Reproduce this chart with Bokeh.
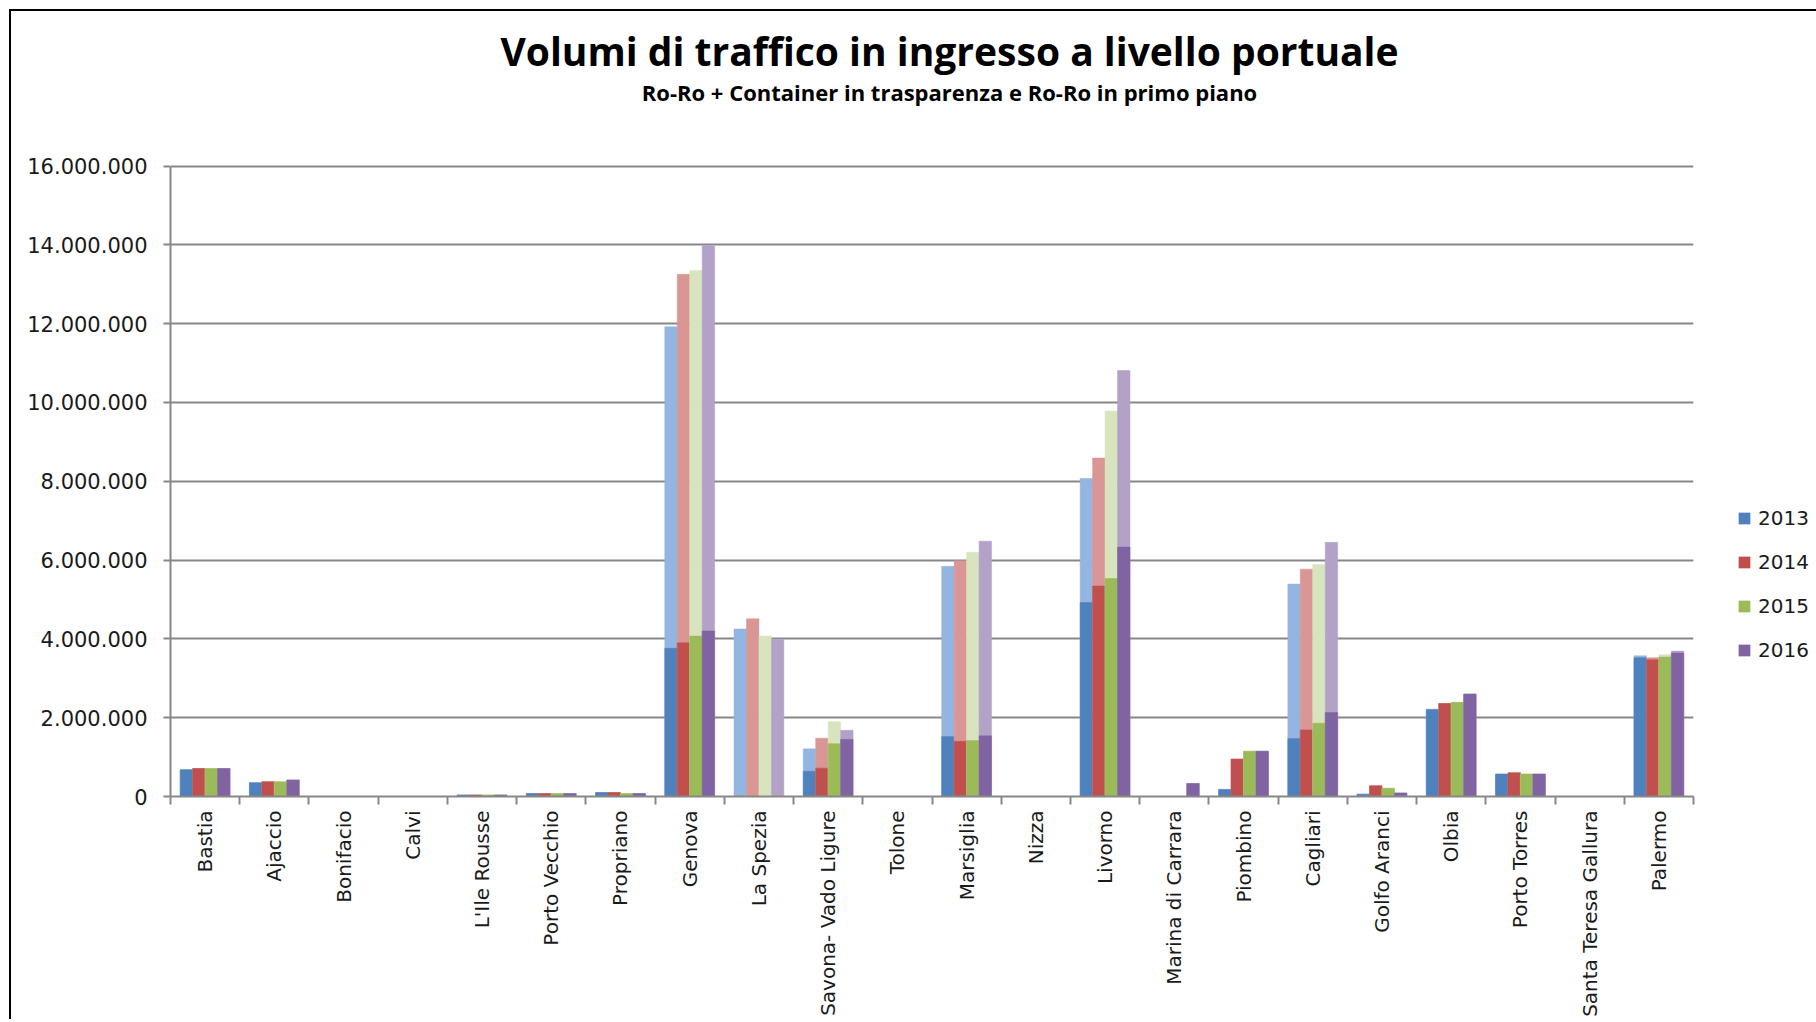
import math
from bokeh.plotting import figure
from bokeh.models import FixedTicker, Range1d, Label, Legend, LegendItem, ColumnDataSource
from bokeh.embed import file_html
from bokeh.resources import INLINE

ports = ["Bastia", "Ajaccio", "Bonifacio", "Calvi", "L'Ile Rousse", "Porto Vecchio",
         "Propriano", "Genova", "La Spezia", "Savona- Vado Ligure", "Tolone", "Marsiglia",
         "Nizza", "Livorno", "Marina di Carrara", "Piombino", "Cagliari", "Golfo Aranci",
         "Olbia", "Porto Torres", "Santa Teresa Gallura", "Palermo"]
years = ["2013", "2014", "2015", "2016"]

# Ro-Ro only (solid, foreground)
roro_2013 = [680000, 350000, 0, 0, 40000, 75000, 100000, 3760000, 0, 640000, 0, 1520000,
             0, 4920000, 0, 180000, 1470000, 60000, 2210000, 570000, 0, 3520000]
roro_2014 = [710000, 375000, 0, 0, 40000, 75000, 100000, 3900000, 0, 720000, 0, 1400000,
             0, 5340000, 0, 950000, 1690000, 270000, 2360000, 600000, 0, 3470000]
roro_2015 = [710000, 375000, 0, 0, 40000, 75000, 76000, 4070000, 0, 1340000, 0, 1420000,
             0, 5530000, 0, 1150000, 1860000, 210000, 2390000, 570000, 0, 3540000]
roro_2016 = [710000, 420000, 0, 0, 40000, 75000, 76000, 4200000, 0, 1450000, 0, 1540000,
             0, 6330000, 330000, 1150000, 2130000, 90000, 2600000, 570000, 0, 3640000]

# Ro-Ro + Container (transparent, background)
total_2013 = [680000, 350000, 0, 0, 40000, 75000, 100000, 11920000, 4250000, 1210000, 0, 5840000,
              0, 8070000, 0, 180000, 5390000, 60000, 2210000, 570000, 0, 3570000]
total_2014 = [710000, 375000, 0, 0, 40000, 75000, 100000, 13250000, 4510000, 1480000, 0, 5980000,
              0, 8590000, 0, 950000, 5770000, 270000, 2360000, 600000, 0, 3520000]
total_2015 = [710000, 375000, 0, 0, 40000, 75000, 76000, 13350000, 4070000, 1900000, 0, 6200000,
              0, 9780000, 0, 1150000, 5890000, 210000, 2390000, 570000, 0, 3600000]
total_2016 = [710000, 420000, 0, 0, 40000, 75000, 76000, 13980000, 3990000, 1680000, 0, 6480000,
              0, 10810000, 330000, 1150000, 6450000, 90000, 2600000, 570000, 0, 3690000]

y_ticks = [0, 2000000, 4000000, 6000000, 8000000, 10000000, 12000000, 14000000, 16000000]
y_labels = ["0", "2.000.000", "4.000.000", "6.000.000", "8.000.000", "10.000.000",
            "12.000.000", "14.000.000", "16.000.000"]

title_text = "Volumi di traffico in ingresso a livello portuale"
subtitle_text = "Ro-Ro + Container in trasparenza e Ro-Ro in primo piano"

roro = [roro_2013, roro_2014, roro_2015, roro_2016]
total = [total_2013, total_2014, total_2015, total_2016]
solid_colors = ["#4F81BD", "#C0504D", "#9BBB59", "#8064A2"]
light_colors = ["#93B5E1", "#D99694", "#D8E4BD", "#B3A2C8"]

n = len(ports)
bar_w = 0.18
offsets = [-0.27, -0.09, 0.09, 0.27]

# layout: the frame also holds the title area above the 16.000.000 gridline
frame_h = 785          # px, whole frame height (title area + plot area)
plot_h = 630.5         # px, height of the 0..16.000.000 band
y_max = 16000000
y_end = y_max * frame_h / plot_h

p = figure(frame_width=1523, frame_height=frame_h,
           x_range=Range1d(0, n), y_range=Range1d(0, y_end),
           output_backend="svg", toolbar_location=None,
           min_border_left=159, min_border_right=120, min_border_top=0, min_border_bottom=200)
p.outline_line_color = None
p.background_fill_color = "white"
p.border_fill_color = "white"
p.title.text = ""
p.styles = {"margin-left": "9px", "margin-top": "9px",
            "border-top": "2px solid black", "border-left": "2px solid black"}

renderers = []
for k in range(4):
    xs = [i + 0.5 + offsets[k] for i in range(n)]
    src_t = ColumnDataSource(dict(x=xs, top=total[k]))
    src_r = ColumnDataSource(dict(x=xs, top=roro[k]))
    p.vbar(x="x", top="top", width=bar_w, source=src_t, fill_color=light_colors[k],
           line_color=light_colors[k], line_width=0.5)
    r = p.vbar(x="x", top="top", width=bar_w, source=src_r, fill_color=solid_colors[k],
               line_color=solid_colors[k], line_width=0.5)
    renderers.append(r)

grid_col = "#878787"
# y axis
p.yaxis.ticker = FixedTicker(ticks=y_ticks)
p.yaxis.bounds = (0, y_max)
p.yaxis.major_label_overrides = {t: l for t, l in zip(y_ticks, y_labels)}
p.yaxis.axis_line_color = grid_col
p.yaxis.axis_line_width = 2
p.yaxis.major_tick_line_color = grid_col
p.yaxis.major_tick_line_width = 2
p.yaxis.major_tick_out = 7
p.yaxis.major_tick_in = 0
p.yaxis.minor_tick_line_color = None
p.yaxis.major_label_text_font = "DejaVu Sans"
p.yaxis.major_label_text_font_size = "21px"
p.yaxis.major_label_text_color = "#1a1a1a"
p.yaxis.major_label_standoff = 16
p.ygrid.grid_line_color = grid_col
p.ygrid.grid_line_width = 2
p.xgrid.visible = False

# x axis
centers = [i + 0.5 for i in range(n)]
p.xaxis.ticker = FixedTicker(ticks=centers, minor_ticks=list(range(n + 1)))
p.xaxis.major_label_overrides = {c: name for c, name in zip(centers, ports)}
p.xaxis.major_label_orientation = math.pi / 2
p.xaxis.axis_line_color = grid_col
p.xaxis.axis_line_width = 2
p.xaxis.major_tick_line_color = None
p.xaxis.major_tick_out = 0
p.xaxis.major_tick_in = 0
p.xaxis.minor_tick_line_color = grid_col
p.xaxis.minor_tick_line_width = 2
p.xaxis.minor_tick_out = 8
p.xaxis.minor_tick_in = 0
p.xaxis.major_label_text_font = "DejaVu Sans"
p.xaxis.major_label_text_font_size = "20px"
p.xaxis.major_label_text_color = "#1a1a1a"
p.xaxis.major_label_standoff = 6

# titles (screen px from the frame's bottom-left corner)
p.add_layout(Label(x=779, y=746, x_units="screen", y_units="screen", text=title_text,
                   text_align="center", text_baseline="alphabetic",
                   text_font="Open Sans", text_font_style="bold", text_font_size="39px",
                   text_color="#000000"))
p.add_layout(Label(x=779, y=705, x_units="screen", y_units="screen", text=subtitle_text,
                   text_align="center", text_baseline="alphabetic",
                   text_font="Open Sans", text_font_style="bold", text_font_size="22px",
                   text_color="#000000"))

legend = Legend(items=[LegendItem(label=y, renderers=[r]) for y, r in zip(years, renderers)],
                location=(44, 134), orientation="vertical",
                glyph_width=14, glyph_height=14, label_standoff=7, spacing=20,
                label_height=24, padding=0, margin=0,
                label_text_font="DejaVu Sans", label_text_font_size="20px",
                label_text_color="#1a1a1a",
                border_line_color=None, background_fill_alpha=0)
p.add_layout(legend, "right")

open("out.html", "w").write(file_html(p, INLINE))
